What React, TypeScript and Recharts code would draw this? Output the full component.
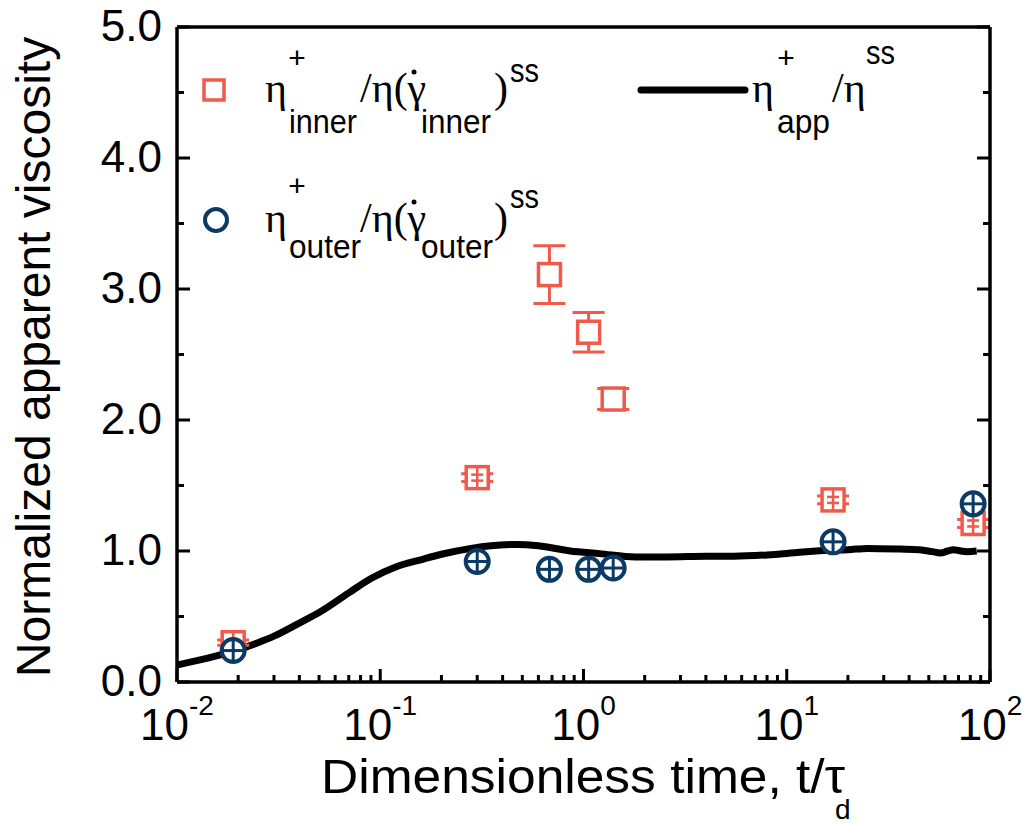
import { ComposedChart, Line, Scatter, ErrorBar, XAxis, YAxis } from 'recharts';

const RED = '#ef5a4a';
const BLUE = '#0b3b64';
const SANS = '"Liberation Sans", Arial, sans-serif';
const SERIF = '"Liberation Serif", "Times New Roman", serif';

// eta_inner+ / eta(gamma_inner)ss
const innerT = [0.0189, 0.3, 0.68, 1.06, 1.4, 16.9, 82.6];
const innerV = [0.3, 1.56, 3.11, 2.67, 2.16, 1.39, 1.21];
const innerErr = [0.02, 0.03, 0.22, 0.15, 0.08, 0.03, 0.03];

// eta_outer+ / eta(gamma_outer)ss
const outerT = [0.0189, 0.3, 0.68, 1.06, 1.4, 16.9, 82.6];
const outerV = [0.24, 0.92, 0.86, 0.86, 0.87, 1.07, 1.36];
const outerErr = [0.01, 0.01, 0.01, 0.01, 0.01, 0.01, 0.01];

// eta_app+ / eta ss
const appT = [0.01, 0.014, 0.0189, 0.025, 0.03, 0.04, 0.05, 0.07, 0.09, 0.12, 0.16, 0.2, 0.28, 0.35, 0.47, 0.6, 0.86, 1.2, 1.8, 2.6, 4, 5.5, 8, 11.6, 16, 20, 25, 36, 45, 52, 57, 62, 66, 72, 77, 86];
const appV = [0.13, 0.18, 0.235, 0.3, 0.35, 0.45, 0.53, 0.68, 0.79, 0.88, 0.935, 0.975, 1.02, 1.04, 1.05, 1.04, 1.0, 0.98, 0.955, 0.955, 0.96, 0.96, 0.97, 0.99, 1.005, 1.01, 1.02, 1.015, 1.01, 0.995, 0.985, 1.0, 1.01, 1.0, 0.995, 1.0];

const xMajor = [0.01, 0.1, 1, 10, 100];
const xExpLabels = ['-2', '-1', '0', '1', '2'];
const xTicks: number[] = [];
[-2, -1, 0, 1].forEach((d) => {
  for (let k = 1; k <= 9; k++) xTicks.push(Number((k * Math.pow(10, d)).toPrecision(3)));
});
xTicks.push(100);

const yTicks = [0, 0.5, 1, 1.5, 2, 2.5, 3, 3.5, 4, 4.5, 5];
const yMajor = [0, 1, 2, 3, 4, 5];

const innerData = innerT.map((x, i) => ({ x, y: innerV[i], err: innerErr[i] }));
const outerData = outerT.map((x, i) => ({ x, y: outerV[i], err: outerErr[i] }));
const appData = appT.map((x, i) => ({ x, y: appV[i] }));

const majorIdx = (v: number) => xMajor.findIndex((m) => Math.abs(m - v) < 1e-9);

const BottomTick = ({ x, y, payload }: any) => {
  const i = majorIdx(payload.value);
  return (
    <g>
      <line x1={x} x2={x} y1={y} y2={y - (i >= 0 ? 13 : 7)} stroke="#000" strokeWidth={3} />
      {i >= 0 && (
        <text x={x} y={y + 58} textAnchor="middle" fontFamily={SANS} fontSize={44} fill="#000">
          10
          <tspan dy={-25} fontSize={28}>{xExpLabels[i]}</tspan>
        </text>
      )}
    </g>
  );
};

const TopTick = ({ x, y, payload }: any) => {
  const major = majorIdx(payload.value) >= 0;
  return <line x1={x} x2={x} y1={y} y2={y + (major ? 13 : 7)} stroke="#000" strokeWidth={3} />;
};

const LeftTick = ({ x, y, payload }: any) => {
  const major = yMajor.includes(payload.value);
  return (
    <g>
      <line x1={x} x2={x + (major ? 13 : 7)} y1={y} y2={y} stroke="#000" strokeWidth={3} />
      {major && (
        <text x={x - 15} y={y + 14} textAnchor="end" fontFamily={SANS} fontSize={44} fill="#000">
          {payload.value.toFixed(1)}
        </text>
      )}
    </g>
  );
};

const RightTick = ({ x, y, payload }: any) => {
  const major = yMajor.includes(payload.value);
  return <line x1={x} x2={x - (major ? 13 : 7)} y1={y} y2={y} stroke="#000" strokeWidth={3} />;
};

// hollow square; error bars smaller than the marker are drawn inside it
const SquareMark = (props: any) => {
  const { cx, cy, payload } = props;
  const s = 11;
  const small = payload.err < 0.06;
  return (
    <g>
      <rect x={cx - s} y={cy - s} width={2 * s} height={2 * s} fill="#fff" stroke={RED} strokeWidth={3.5} />
      {small && (
        <g stroke={RED} strokeWidth={2.5}>
          <line x1={cx} x2={cx} y1={cy - s} y2={cy + s} />
          <line x1={cx - 6} x2={cx + 6} y1={cy - 3} y2={cy - 3} />
          <line x1={cx - 6} x2={cx + 6} y1={cy + 3} y2={cy + 3} />
        </g>
      )}
    </g>
  );
};

const CircleMark = (props: any) => {
  const { cx, cy } = props;
  const r = 11.5;
  return (
    <g>
      <circle cx={cx} cy={cy} r={r} fill="#fff" stroke={BLUE} strokeWidth={4} />
      <g stroke={BLUE} strokeWidth={3}>
        <line x1={cx} x2={cx} y1={cy - r} y2={cy + r} />
        <line x1={cx - r} x2={cx + r} y1={cy} y2={cy} />
      </g>
    </g>
  );
};

const Sub = ({ x, y, w, children }: any) => (
  <text x={x} y={y} fontFamily={SANS} fontSize={34} textLength={w} lengthAdjust="spacingAndGlyphs">
    {children}
  </text>
);

const LegendBlock = () => (
  <g fill="#000">
    {/* row 1 */}
    <rect x={204} y={80} width={20} height={20} fill="none" stroke={RED} strokeWidth={3.5} />
    <text x={265} y={102} fontFamily={SERIF} fontSize={42}>η</text>
    <text x={297} y={68} fontFamily={SANS} fontSize={30} textAnchor="middle">+</text>
    <Sub x={289} y={133} w={68}>inner</Sub>
    <text x={360} y={102} fontFamily={SERIF} fontSize={42}>/η(γ</text>
    <circle cx={414} cy={72} r={2.5} />
    <Sub x={421} y={133} w={70}>inner</Sub>
    <text x={494} y={102} fontFamily={SERIF} fontSize={42}>)</text>
    <Sub x={510} y={82} w={29}>ss</Sub>

    <line x1={641} x2={745} y1={90} y2={90} stroke="#000" strokeWidth={7} strokeLinecap="round" />
    <text x={752} y={102} fontFamily={SERIF} fontSize={42}>η</text>
    <text x={786} y={68} fontFamily={SANS} fontSize={30} textAnchor="middle">+</text>
    <Sub x={777} y={133} w={53}>app</Sub>
    <text x={832} y={102} fontFamily={SERIF} fontSize={42}>/η</text>
    <Sub x={866} y={64} w={29}>ss</Sub>

    {/* row 2 */}
    <circle cx={216} cy={220} r={11} fill="none" stroke={BLUE} strokeWidth={4} />
    <text x={265} y={232} fontFamily={SERIF} fontSize={42}>η</text>
    <text x={297} y={196} fontFamily={SANS} fontSize={30} textAnchor="middle">+</text>
    <Sub x={289} y={258} w={72}>outer</Sub>
    <text x={360} y={232} fontFamily={SERIF} fontSize={42}>/η(γ</text>
    <circle cx={414} cy={202} r={2.5} />
    <Sub x={421} y={258} w={72}>outer</Sub>
    <text x={494} y={232} fontFamily={SERIF} fontSize={42}>)</text>
    <Sub x={510} y={208} w={29}>ss</Sub>
  </g>
);

const AxisTitles = () => (
  <g fill="#000" fontFamily={SANS}>
    <text x={50} y={357} fontSize={48} textAnchor="middle" transform="rotate(-90, 50, 357)">
      Normalized apparent viscosity
    </text>
    <text x={321} y={793} fontSize={48} textLength={524} lengthAdjust="spacingAndGlyphs">
      Dimensionless time, t/τ
    </text>
    <text x={835} y={819} fontSize={28}>d</text>
  </g>
);

export default function App() {
  return (
    <div style={{ position: 'absolute', left: 0, top: 0, width: 1028, height: 825, background: '#fff' }}>
      <ComposedChart width={1028} height={825} margin={{ top: 26, right: 37, bottom: 0, left: 0 }}>
        <XAxis
          dataKey="x"
          type="number"
          scale="log"
          domain={[0.01, 100]}
          allowDataOverflow
          ticks={xTicks}
          interval={0}
          height={143}
          tickSize={0}
          tickMargin={0}
          tickLine={false}
          axisLine={{ stroke: '#000', strokeWidth: 3.5 }}
          tick={<BottomTick />}
        />
        <XAxis
          xAxisId="top"
          orientation="top"
          type="number"
          scale="log"
          domain={[0.01, 100]}
          allowDataOverflow
          ticks={xTicks}
          interval={0}
          height={1}
          tickSize={0}
          tickMargin={0}
          tickLine={false}
          axisLine={{ stroke: '#000', strokeWidth: 3.5 }}
          tick={<TopTick />}
        />
        <YAxis
          type="number"
          domain={[0, 5]}
          allowDataOverflow
          ticks={yTicks}
          interval={0}
          width={177}
          tickSize={0}
          tickMargin={0}
          tickLine={false}
          axisLine={{ stroke: '#000', strokeWidth: 3.5 }}
          tick={<LeftTick />}
        />
        <YAxis
          yAxisId="right"
          orientation="right"
          type="number"
          domain={[0, 5]}
          allowDataOverflow
          ticks={yTicks}
          interval={0}
          width={1}
          tickSize={0}
          tickMargin={0}
          tickLine={false}
          axisLine={{ stroke: '#000', strokeWidth: 3.5 }}
          tick={<RightTick />}
        />
        <Line
          data={appData}
          dataKey="y"
          type="monotone"
          stroke="#000"
          strokeWidth={7}
          dot={false}
          activeDot={false}
          isAnimationActive={false}
        />
        <Scatter data={innerData} dataKey="y" shape={SquareMark} isAnimationActive={false}>
          <ErrorBar dataKey="err" direction="y" width={16} strokeWidth={3} stroke={RED} />
        </Scatter>
        <Scatter data={outerData} dataKey="y" shape={CircleMark} isAnimationActive={false} />
        <LegendBlock />
        <AxisTitles />
      </ComposedChart>
    </div>
  );
}
